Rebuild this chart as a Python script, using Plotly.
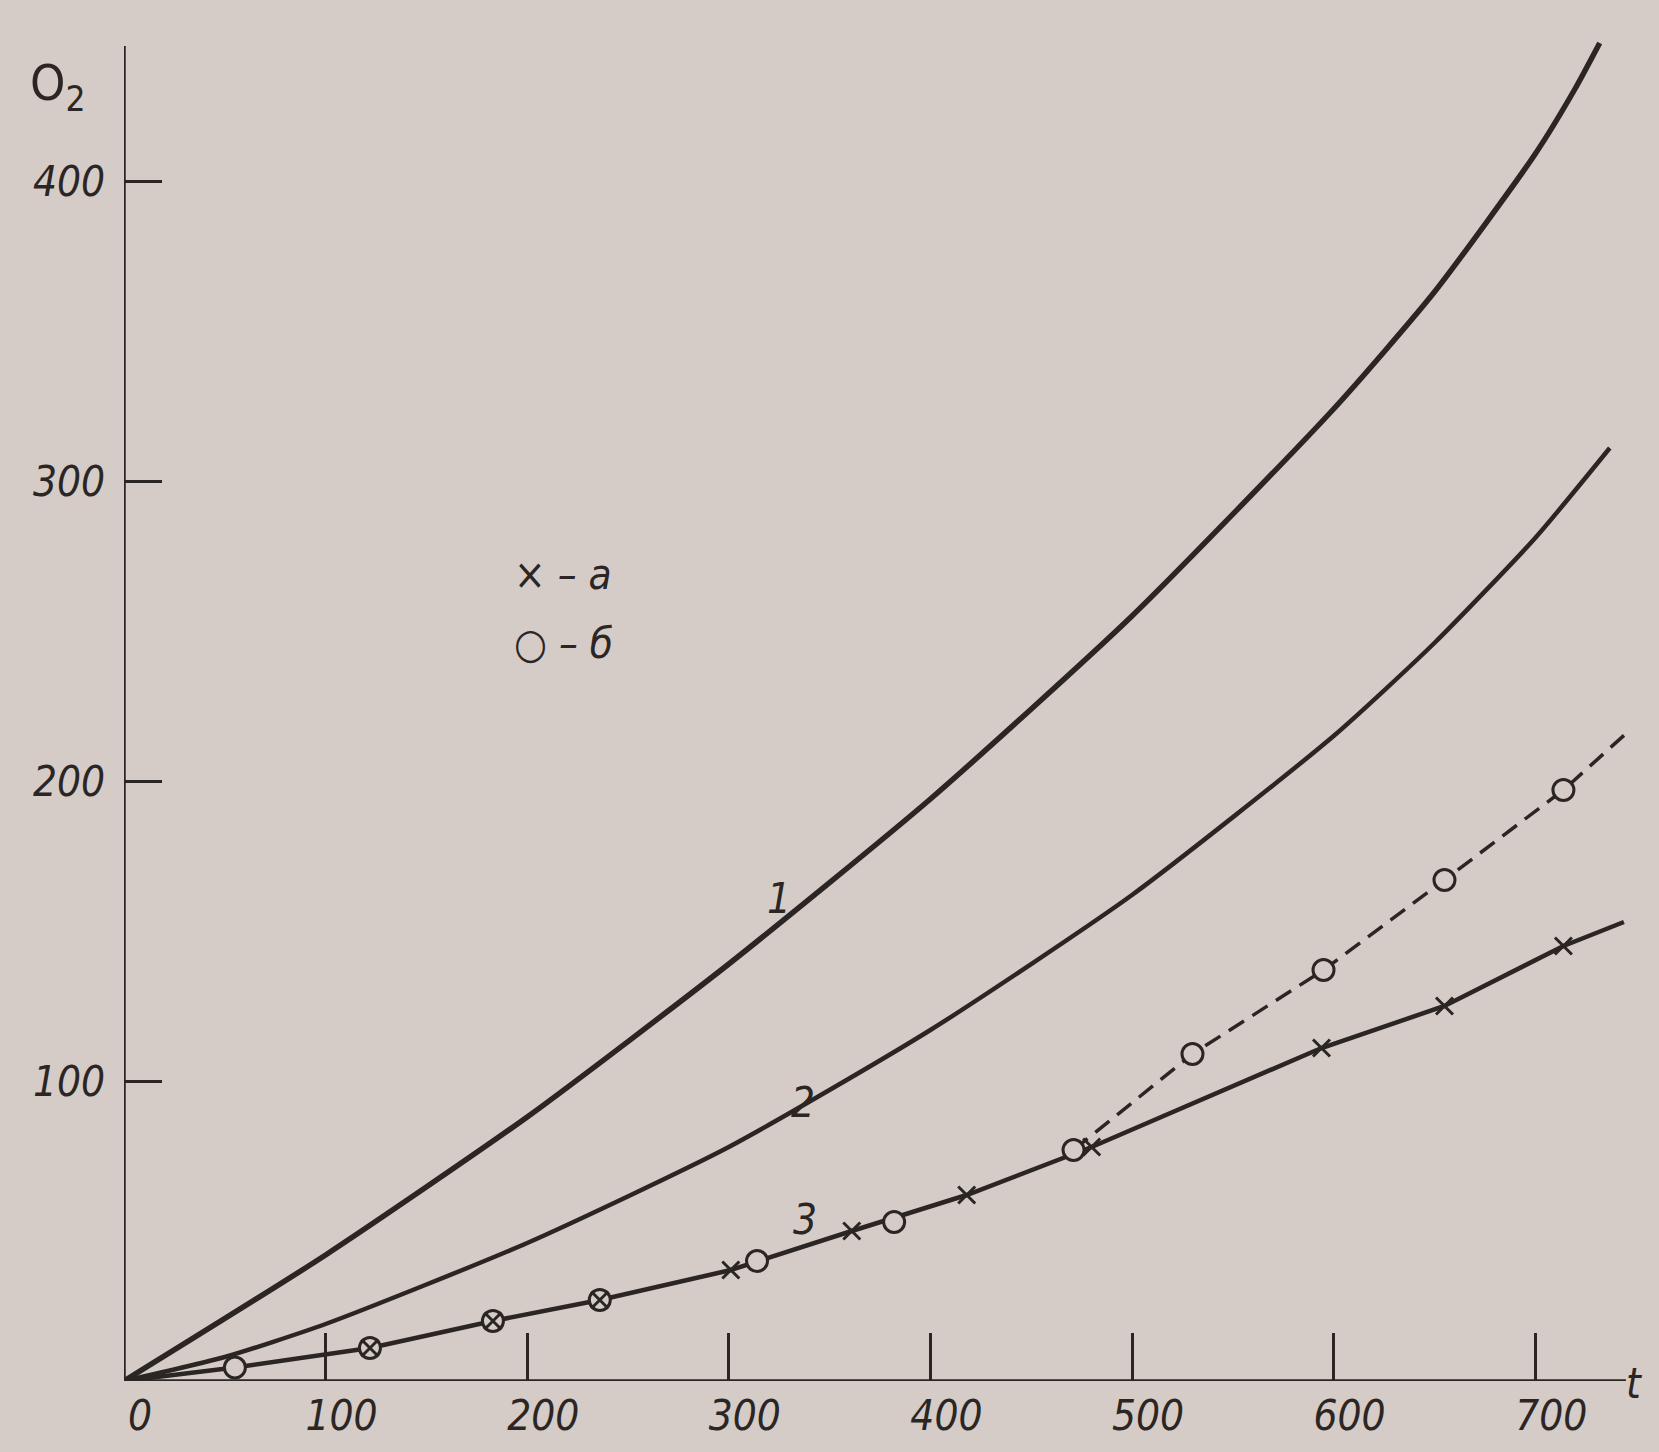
import plotly.graph_objects as go

# Oxygen uptake O2 versus time t
t_grid = [0, 100, 200, 300, 400, 500, 600, 700]

# curve 1
t_c1 = [0, 100, 200, 300, 400, 500, 600, 650, 700, 720, 732]
o2_c1 = [0, 42, 88, 139, 194, 255, 324, 363, 409, 431, 446]

# curve 2
t_c2 = [0, 50, 100, 200, 300, 400, 500, 600, 650, 700, 737]
o2_c2 = [0, 8, 19, 46, 78, 117, 162, 215, 246, 281, 311]

# curve 3: common trunk continuing as branch "а" (solid)
t_c3a = [0, 55, 122, 183, 236, 301, 361, 418, 480, 594, 655, 714, 744]
o2_c3a = [0, 4.5, 11, 20, 27, 37, 50, 62, 78, 111, 125, 145, 153]
# branch "б" (dashed)
t_c3b = [471, 530, 595, 655, 714, 747]
o2_c3b = [77, 109, 137, 167, 197, 217]

# measured points, series а (crosses) and б (circles)
t_a = [122, 183, 236, 301, 361, 418, 480, 594, 655, 714]
o2_a = [11, 20, 27, 37, 50, 62, 78, 111, 125, 145]
t_b = [55, 122, 183, 236, 314, 382, 471, 530, 595, 655, 714]
o2_b = [4.5, 11, 20, 27, 40, 53, 77, 109, 137, 167, 197]

y_ticks = [100, 200, 300, 400]

ink = "#2b2624"
paper = "#d5ccc7"
font_family = "DejaVu Sans Condensed, Liberation Sans Narrow, DejaVu Sans, sans-serif"

fig = go.Figure()

fig.add_trace(go.Scatter(x=t_c1, y=o2_c1, mode="lines", line=dict(color=ink, width=5.5, shape="spline", smoothing=0.6)))
fig.add_trace(go.Scatter(x=t_c2, y=o2_c2, mode="lines", line=dict(color=ink, width=4.5, shape="spline", smoothing=0.6)))
fig.add_trace(go.Scatter(x=t_c3a, y=o2_c3a, mode="lines", line=dict(color=ink, width=4.5)))
fig.add_trace(go.Scatter(x=t_c3b, y=o2_c3b, mode="lines", line=dict(color=ink, width=3.5, dash="18px,10px")))

fig.add_trace(go.Scatter(
    x=t_b, y=o2_b, mode="markers",
    marker=dict(symbol="circle", size=21, color=paper, line=dict(color=ink, width=3)),
))
fig.add_trace(go.Scatter(
    x=t_a, y=o2_a, mode="markers",
    marker=dict(symbol="x-thin", size=17, color=ink, line=dict(color=ink, width=3)),
))

# axis lines
fig.add_shape(type="line", x0=0, y0=0, x1=0, y1=445, xref="x", yref="y", line=dict(color=ink, width=3.5))
fig.add_shape(type="line", x0=0, y0=0, x1=745, y1=0, xref="x", yref="y", line=dict(color=ink, width=3.5))

label_font = dict(family=font_family, size=42, color=ink, style="italic")

# curve numbers
for txt, tx, ty in [("1", 325, 161), ("2", 337, 93), ("3", 338, 54)]:
    fig.add_annotation(x=tx, y=ty, text=txt, showarrow=False, font=label_font)

# key
fig.add_annotation(x=218, y=269, text="× – а", showarrow=False, font=label_font, xanchor="center")
fig.add_annotation(x=218, y=246, text="○ – б", showarrow=False, font=label_font, xanchor="center")

# axis titles
fig.add_annotation(x=-0.044, y=0.955, xref="paper", yref="paper", text="O<sub>2</sub>",
                   showarrow=False, font=dict(family=font_family, size=50, color=ink),
                   xanchor="center", yanchor="middle")
fig.add_annotation(x=0.999, y=-0.002, xref="paper", yref="paper", text="t",
                   showarrow=False, font=label_font, xanchor="center", yanchor="middle")

fig.update_xaxes(
    range=[0, 750], tickvals=t_grid, ticktext=[str(v) for v in t_grid],
    ticks="inside", ticklen=48, tickwidth=3, tickcolor=ink,
    showline=False, showgrid=False, zeroline=False,
    tickfont=dict(family=font_family, size=42, color=ink, style="italic"),
    ticklabelstandoff=6, ticklabelshift=16,
)
fig.update_yaxes(
    range=[0, 452], tickvals=y_ticks, ticktext=[str(v) for v in y_ticks],
    ticks="inside", ticklen=38, tickwidth=3, tickcolor=ink,
    showline=False, showgrid=False, zeroline=False,
    tickfont=dict(family=font_family, size=42, color=ink, style="italic"),
    ticklabelstandoff=18,
)

fig.update_layout(
    width=1659, height=1452,
    margin=dict(l=124, r=23, t=25, b=59),
    paper_bgcolor=paper, plot_bgcolor=paper,
    showlegend=False,
)

fig.write_html("out.html")
